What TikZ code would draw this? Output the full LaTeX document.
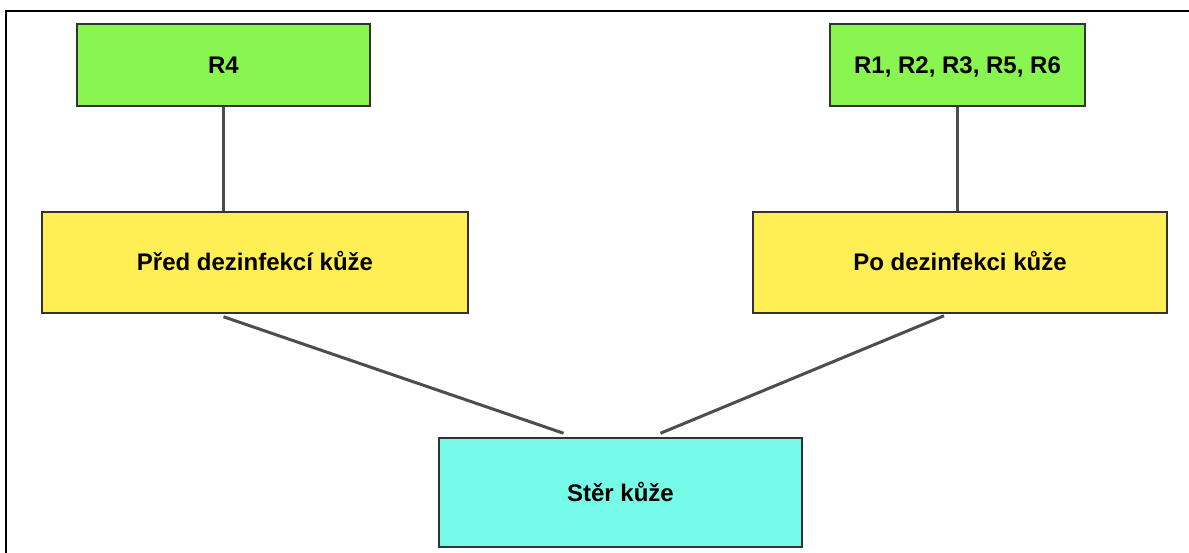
\documentclass[tikz,border=0pt]{standalone}
\usepackage{fontspec}
\setmainfont{Liberation Sans}
\usetikzlibrary{calc}
\definecolor{boxgreen}{HTML}{88F550}
\definecolor{boxyellow}{HTML}{FFEF55}
\definecolor{boxcyan}{HTML}{75FBE7}
\definecolor{edgegray}{HTML}{333333}
\definecolor{linkgray}{HTML}{4D4D4D}

\begin{document}
\begin{tikzpicture}[x=1pt,y=-1pt,
  every node/.style={font=\fontsize{24}{28}\selectfont\bfseries},
  tag/.style={draw=edgegray,line width=1.5pt,inner sep=0pt,
    text height=17pt,text depth=0pt,align=center},
  link/.style={draw=linkgray,line width=3pt}]
  \useasboundingbox (0,0) rectangle (1189,553);
  %% frame
  \draw[line width=2pt] (6,553) -- (6,11) -- (1189,11);

  \node[tag,fill=boxgreen,minimum width=293pt,minimum height=82pt] (r4) at (223.5,65) {R4};
  \node[tag,fill=boxgreen,minimum width=255pt,minimum height=82pt] (rest) at (957.5,65) {R1, R2, R3, R5, R6};

  \node[tag,fill=boxyellow,minimum width=426pt,minimum height=101pt] (pred) at (255,262.5) {Před dezinfekcí kůže};
  \node[tag,fill=boxyellow,minimum width=414pt,minimum height=101pt] (po) at (960,262.5) {Po dezinfekci kůže};

  \node[tag,fill=boxcyan,minimum width=363pt,minimum height=109pt] (ster) at (620.5,492.5) {Stěr kůže};

  \draw[link] (r4.south) -- (r4.south |- pred.north) ;
  \draw[link] (rest.south) -- (rest.south |- po.north) ;

  \draw[link] ($(r4.south |- pred.south)+(0,3)$) -- ($(ster.north)+(-57,-4)$) ;
  \draw[link] ($(po.south)+(-16,2)$) -- ($(ster.north)+(40,-4)$) ;

\end{tikzpicture}
\end{document}
